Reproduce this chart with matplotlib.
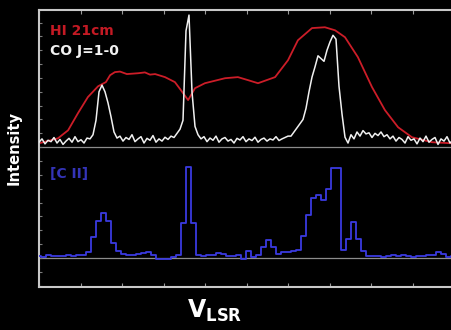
import matplotlib

matplotlib.use("Agg")
import matplotlib.pyplot as plt
import numpy as np
from matplotlib.ticker import MultipleLocator

# velocity grid units (arbitrary km/s), upper panel spectra are offset by UPPER_OFF
UPPER_OFF = 4.0

# HI 21cm profile (velocity, intensity above upper baseline)
hi_v = [0, 6.3, 9.7, 13, 16.3, 19.7, 22.3, 23.7, 25.3, 27, 29.3, 33, 35.3, 37,
        38.7, 42, 45.3, 47.3, 49.7, 52, 55.3, 62, 66.3, 69.7, 73, 78.7, 83,
        86.3, 91, 95.3, 98.7, 102, 106.3, 111, 115.3, 119.7, 124.3, 131,
        137.7, 143.7]
hi_t = [0.14, 0.32, 0.61, 1.23, 1.81, 2.20, 2.35, 2.60, 2.71, 2.73, 2.64, 2.67,
        2.70, 2.62, 2.64, 2.53, 2.35, 2.06, 1.70, 2.13, 2.31, 2.49, 2.53, 2.42,
        2.31, 2.53, 3.14, 3.86, 4.30, 4.33, 4.22, 3.97, 3.25, 2.17, 1.34, 0.72,
        0.36, 0.18, 0.14, 0.12]

# CO J=1-0, one channel per velocity unit starting at 0
co_t = [0.18, 0.30, 0.12, 0.25, 0.20, 0.35, 0.15, 0.28, 0.10, 0.22, 0.32, 0.18,
        0.38, 0.20, 0.27, 0.15, 0.33, 0.30,
        0.45, 0.97, 2.00, 2.24, 2.00, 1.60, 1.10, 0.55, 0.33,
        0.40, 0.22, 0.35, 0.28, 0.45, 0.20, 0.30, 0.38, 0.15, 0.32, 0.25, 0.42,
        0.18, 0.30, 0.22, 0.36, 0.28, 0.40, 0.35,
        0.50, 0.65, 0.97, 4.20, 4.77, 2.00, 0.75, 0.45,
        0.30, 0.38, 0.20, 0.33, 0.25, 0.40, 0.18, 0.30, 0.35, 0.22, 0.28, 0.15,
        0.32, 0.26, 0.38, 0.20, 0.30, 0.24, 0.36, 0.18, 0.28, 0.33, 0.22, 0.30,
        0.26, 0.38, 0.24, 0.30, 0.35, 0.40,
        0.40, 0.55, 0.70, 0.85, 1.00, 1.40, 2.00, 2.53, 2.90, 3.30, 3.20, 3.10,
        3.50, 3.80, 4.04, 3.90, 2.20, 1.20, 0.36, 0.15,
        0.45, 0.30, 0.55, 0.40, 0.60, 0.48, 0.52, 0.35, 0.50, 0.42, 0.55, 0.38,
        0.45,
        0.30, 0.40, 0.22, 0.35, 0.28, 0.15, 0.38, 0.25, 0.30, 0.12, 0.33, 0.20,
        0.40, 0.18, 0.28, 0.35, 0.10, 0.30, 0.22, 0.38, 0.15, 0.26, 0.32, 0.20,
        0.28, 0.35, 0.18]
co_v0, co_dv = 0.0, 1.0

# [C II] channels (coarser), starting at -0.17 with width 5/3
cii_t = [0.08, 0.05, 0.10, 0.06, 0.09, 0.07, 0.11, 0.08, 0.10, 0.12,
         0.20, 0.75, 1.35, 1.62, 1.35, 0.55, 0.25, 0.15,
         0.12, 0.10, 0.14, 0.18, 0.22, 0.10, -0.02, -0.05, -0.03, 0.05,
         0.10, 1.26, 3.29, 1.26, 0.10,
         0.08, 0.12, 0.10, 0.18, 0.15, 0.08, 0.06, 0.10, -0.04, 0.25, 0.05,
         0.12, 0.40, 0.65, 0.40, 0.15, 0.22, 0.20, 0.25, 0.30, 0.80, 1.55, 2.17,
         2.27, 2.10, 2.50, 3.25, 3.25, 0.30, 0.70, 1.30, 0.70, 0.25, 0.08,
         0.06, 0.09, 0.05, 0.08, 0.10, 0.07, 0.12, 0.09, 0.05, 0.08, 0.06, 0.10,
         0.12, 0.20, 0.15, 0.05, 0.08, 0.06, 0.10, 0.07]
cii_v0, cii_dv = -0.17, 5.0 / 3.0

W, H = 452, 330
fig = plt.figure(figsize=(W / 100, H / 100), dpi=100, facecolor="black")
ax = fig.add_axes([39 / W, 43 / H, (470 - 39) / W, 277 / H], facecolor="black")

co_v = co_v0 + co_dv * np.arange(len(co_t))
cii_v = cii_v0 + cii_dv * np.arange(len(cii_t))

ax.axhline(UPPER_OFF, color="#8c8c8c", lw=0.9, zorder=1)
ax.axhline(0.0, color="#8c8c8c", lw=0.9, zorder=1)

ax.plot(hi_v, np.array(hi_t) + UPPER_OFF, color="#cc1d28", lw=1.3, zorder=2)
ax.plot(co_v, np.array(co_t) + UPPER_OFF, color="#f0f0f0", lw=1.1, zorder=3)
ax.plot(cii_v, cii_t, color="#3a3ae0", lw=1.3, drawstyle="steps-mid", zorder=3)

ax.set_xlim(0, (470 - 39) / 3)
ax.set_ylim(-1.047, 8.953)

for side in ["left", "top", "bottom"]:
    ax.spines[side].set_color("#c8c8c8")
    ax.spines[side].set_linewidth(1.5)
ax.spines["right"].set_visible(False)

ax.xaxis.set_major_locator(MultipleLocator(41.5 / 3))
ax.yaxis.set_major_locator(MultipleLocator(0.5))
ax.tick_params(axis="x", which="both", direction="in", top=True, bottom=True,
               length=3, width=0.8, color="#9a9a9a", labelbottom=False)
ax.tick_params(axis="y", which="both", direction="in", left=True, right=False,
               length=2, width=0.8, color="#7a7a7a", labelleft=False)

fig.text(50 / W, 1 - 35 / H, "HI 21cm", color="#c41a24", fontsize=10,
         fontweight="bold", va="baseline", ha="left")
fig.text(50 / W, 1 - 55 / H, "CO J=1-0", color="#f2f2f2", fontsize=10,
         fontweight="bold", va="baseline", ha="left")
fig.text(50 / W, 1 - 178 / H, "[C II]", color="#3434b8", fontsize=10,
         fontweight="bold", va="baseline", ha="left")

fig.text(14 / W, 1 - 148 / H, "Intensity", color="white", fontsize=10.5,
         fontweight="bold", rotation=90, va="center", ha="center")
plt.rcParams["mathtext.fontset"] = "dejavusans"
fig.text(215 / W, 1 - 318 / H, r"$\mathbf{V_{LSR}}$", color="white",
         fontsize=17, va="baseline", ha="center")

fig.savefig("out.png", dpi=100, facecolor="black")
